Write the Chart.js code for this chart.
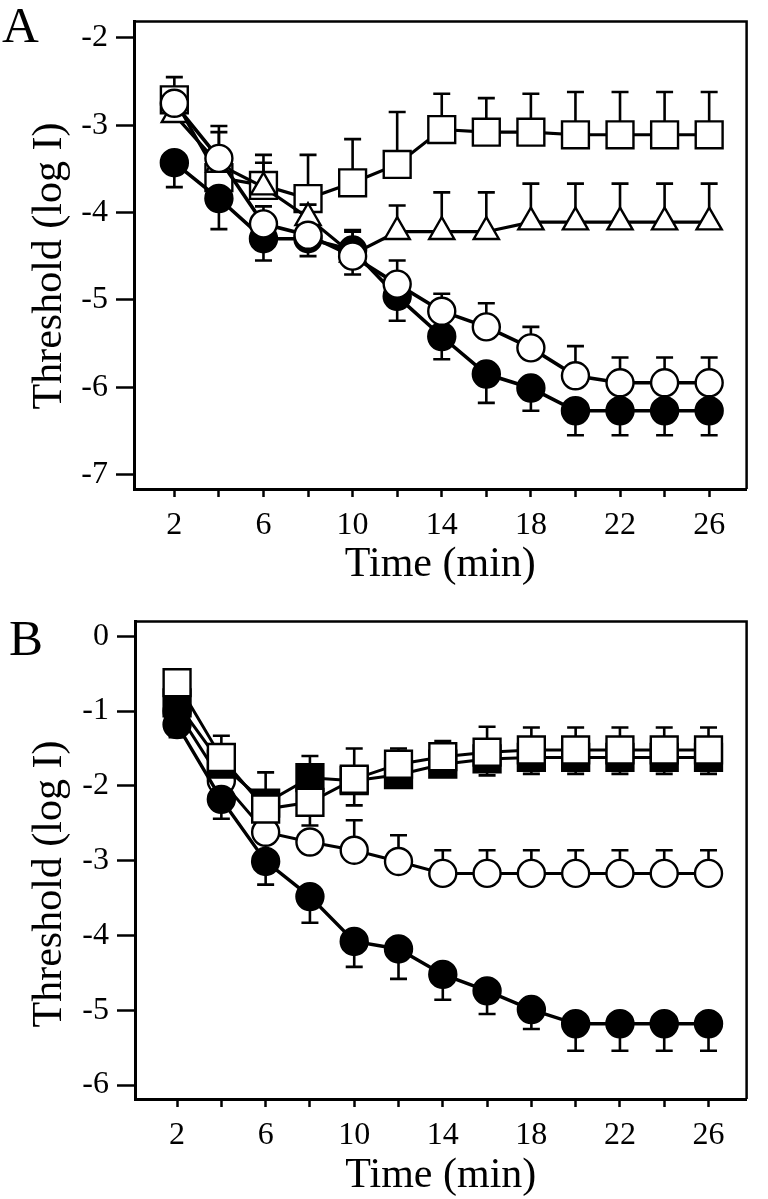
<!DOCTYPE html>
<html>
<head>
<meta charset="utf-8">
<title>Threshold vs time</title>
<script src="https://cdn.jsdelivr.net/npm/chart.js@4.4.1/dist/chart.umd.min.js"></script>
<style>
  html, body { margin: 0; padding: 0; background: #fff; }
  .panel { position: absolute; left: 0; width: 768px; }
  #panelA { top: 0; height: 600px; }
  #panelB { top: 600px; height: 599px; }
</style>
</head>
<body>
<div class="panel" id="panelA"><canvas id="chartA"></canvas></div>
<div class="panel" id="panelB"><canvas id="chartB"></canvas></div>
<script>
// Data (log I thresholds, minutes)
const timeMin = [2, 4, 6, 8, 10, 12, 14, 16, 18, 20, 22, 24, 26];
const xTickValues = [2, 4, 6, 8, 10, 12, 14, 16, 18, 20, 22, 24, 26];
const xLabelValues = [2, 6, 10, 14, 18, 22, 26];
const yTicksA = [-2, -3, -4, -5, -6, -7];
const yTicksB = [0, -1, -2, -3, -4, -5, -6];

// Panel A
const aSquareOpen   = [-2.71, -3.60, -3.69, -3.84, -3.66, -3.45, -3.05, -3.08, -3.08, -3.11, -3.11, -3.11, -3.11];
const aSquareOpenUp = [0.26, 0.59, 0.35, 0.50, 0.50, 0.60, 0.41, 0.39, 0.44, 0.49, 0.49, 0.49, 0.49];
const aTriangle     = [-2.88, -3.45, -3.71, -4.06, -4.48, -4.22, -4.22, -4.22, -4.11, -4.11, -4.11, -4.11, -4.11];
const aTriangleUp   = [null, 0.37, 0.28, 0.15, 0.26, 0.30, 0.45, 0.45, 0.44, 0.44, 0.44, 0.44, 0.44];
const aCircleOpen   = [-2.75, -3.38, -4.13, -4.26, -4.50, -4.82, -5.13, -5.31, -5.55, -5.87, -5.95, -5.95, -5.95];
const aCircleOpenUp = [null, null, 0.20, null, 0.30, 0.27, 0.20, 0.27, 0.24, 0.34, 0.29, 0.29, 0.29];
const aCircleFilled = [-3.43, -3.84, -4.30, -4.30, -4.43, -4.96, -5.42, -5.85, -6.01, -6.27, -6.27, -6.27, -6.27];
const aCircleFilledDown = [0.28, 0.35, 0.25, 0.20, 0.28, 0.28, 0.26, 0.33, 0.26, 0.28, 0.28, 0.28, 0.28];

// Panel B
const bSquareOpen     = [-0.62, -1.62, -2.31, -2.22, -1.91, -1.71, -1.61, -1.55, -1.52, -1.52, -1.52, -1.52, -1.52];
const bSquareOpenUp   = [null, 0.29, null, null, 0.41, 0.21, 0.21, 0.34, 0.30, 0.30, 0.30, 0.30, 0.30];
const bSquareOpenDown = [null, null, 0.17, 0.31, 0.35, null, null, null, null, null, null, null, null];
const bSquareFilled     = [-0.89, -1.71, -2.23, -1.89, -1.93, -1.85, -1.71, -1.64, -1.62, -1.62, -1.62, -1.62, -1.62];
const bSquareFilledUp   = [null, null, 0.41, 0.29, null, null, null, null, null, null, null, null, null];
const bSquareFilledDown = [null, null, null, null, null, null, null, 0.22, 0.22, 0.22, 0.22, 0.22, 0.22];
const bCircleOpen     = [-1.00, -1.93, -2.62, -2.75, -2.86, -3.01, -3.17, -3.17, -3.17, -3.17, -3.17, -3.17, -3.17];
const bCircleOpenUp   = [null, null, null, null, 0.40, 0.35, 0.31, 0.31, 0.31, 0.31, 0.31, 0.31, 0.31];
const bCircleFilled     = [-1.18, -2.18, -3.01, -3.48, -4.08, -4.18, -4.52, -4.74, -4.99, -5.18, -5.18, -5.18, -5.18];
const bCircleFilledDown = [0.17, 0.26, 0.31, 0.35, 0.34, 0.40, 0.34, 0.31, 0.26, 0.36, 0.36, 0.36, 0.36];

Chart.defaults.font.family = '"Liberation Serif", "Times New Roman", serif';
Chart.defaults.color = '#000';

// marker looks
const circleOpen = { shape: 'circle', r: 13.5, fill: '#fff' };
const circleFilled = { shape: 'circle', r: 13.5, fill: '#000' };
const squareOpen = { shape: 'rect', r: 19, fill: '#fff' };
const squareFilled = { shape: 'rect', r: 19, fill: '#000' };
const triangleOpen = { shape: 'triangle', r: 14.5, fill: '#fff' };

function series(vals, look, up, down, order, lineW) {
    return {
        data: timeMin.map((t, i) => ({ x: t, y: vals[i] })),
        borderColor: '#000',
        borderWidth: lineW,
        tension: 0,
        pointStyle: look.shape,
        pointRadius: look.r,
        pointBackgroundColor: look.fill,
        pointBorderColor: '#000',
        pointBorderWidth: 2.4,
        errUp: up,
        errDown: down,
        order: order
    };
}

// one-sided error bars, drawn just under their own markers
const errorBars = {
    id: 'errorBars',
    beforeDatasetDraw(chart, args) {
        const ds = chart.data.datasets[args.index];
        const yScale = chart.scales.y;
        const ctx = chart.ctx;
        ctx.save();
        ctx.strokeStyle = '#000';
        ctx.lineWidth = 2.6;
        args.meta.data.forEach((pt, i) => {
            const v = ds.data[i].y;
            [[ds.errUp, 1], [ds.errDown, -1]].forEach(([arr, sign]) => {
                if (!arr || arr[i] == null) return;
                const yEnd = yScale.getPixelForValue(v + sign * arr[i]);
                ctx.beginPath();
                ctx.moveTo(pt.x, pt.y);
                ctx.lineTo(pt.x, yEnd);
                ctx.moveTo(pt.x - 8.5, yEnd);
                ctx.lineTo(pt.x + 8.5, yEnd);
                ctx.stroke();
            });
        });
        ctx.restore();
    }
};

// box top/right edges, panel letter, y title
const frame = {
    id: 'frame',
    afterDraw(chart, args, opts) {
        const ctx = chart.ctx;
        const a = chart.chartArea;
        ctx.save();
        ctx.strokeStyle = '#000';
        ctx.lineWidth = 2.5;
        ctx.beginPath();
        ctx.moveTo(a.left, a.top);
        ctx.lineTo(a.right, a.top);
        ctx.lineTo(a.right, a.bottom);
        ctx.stroke();

        ctx.fillStyle = '#000';
        ctx.font = '51px "Liberation Serif"';
        ctx.textBaseline = 'alphabetic';
        ctx.textAlign = 'left';
        ctx.fillText(opts.letter, opts.letterX, opts.letterY);

        ctx.translate(opts.titleX, opts.titleY);
        ctx.rotate(-Math.PI / 2);
        ctx.font = '42px "Liberation Serif"';
        ctx.textAlign = 'center';
        ctx.textBaseline = 'middle';
        ctx.fillText('Threshold (log I)', 0, 0);
        ctx.restore();
    }
};

function makeOptions(cfg) {
    return {
        responsive: true,
        maintainAspectRatio: false,
        animation: false,
        layout: { padding: cfg.pad },
        plugins: {
            legend: { display: false },
            tooltip: { enabled: false },
            frame: cfg.frame
        },
        scales: {
            x: {
                type: 'linear',
                min: cfg.xMin,
                max: cfg.xMax,
                afterBuildTicks: s => { s.ticks = xTickValues.map(v => ({ value: v })); },
                afterFit: s => { s.height = cfg.xHeight; s.paddingLeft = 0; s.paddingRight = 0; },
                ticks: {
                    autoSkip: false,
                    maxRotation: 0,
                    padding: 9,
                    font: { size: 32 },
                    color: '#000',
                    callback: v => xLabelValues.includes(v) ? String(v) : ''
                },
                grid: { drawOnChartArea: false, drawTicks: true, tickLength: 8, tickWidth: 2.5, tickColor: '#000' },
                border: { display: true, color: '#000', width: 3 },
                title: {
                    display: true,
                    text: 'Time (min)',
                    color: '#000',
                    font: { size: 42, lineHeight: 1 },
                    padding: { top: 0, bottom: cfg.xTitlePad }
                }
            },
            y: {
                type: 'linear',
                min: cfg.yMin,
                max: cfg.yMax,
                afterBuildTicks: s => { s.ticks = cfg.yTicks.map(v => ({ value: v })); },
                afterFit: s => { s.width = cfg.yWidth; s.paddingTop = 0; s.paddingBottom = 0; },
                ticks: {
                    padding: 8,
                    font: { size: 32 },
                    color: '#000',
                    callback: v => String(v)
                },
                grid: { drawOnChartArea: false, drawTicks: true, tickLength: 18, tickWidth: 2.5, tickColor: '#000' },
                border: { display: true, color: '#000', width: 3 }
            }
        }
    };
}

new Chart(document.getElementById('chartA'), {
    type: 'line',
    data: {
        datasets: [
            series(aCircleOpen, circleOpen, aCircleOpenUp, null, 1, 3.6),
            series(aCircleFilled, circleFilled, null, aCircleFilledDown, 2, 3.6),
            series(aTriangle, triangleOpen, aTriangleUp, null, 3, 3.2),
            series(aSquareOpen, squareOpen, aSquareOpenUp, null, 4, 3.2)
        ]
    },
    options: makeOptions({
        pad: { left: 0, top: 5, right: 12, bottom: 0 },
        xMin: 0.19, xMax: 27.68,
        yMin: -7.166, yMax: -1.812,
        yTicks: yTicksA,
        xHeight: 111,
        yWidth: 134,
        xTitlePad: 14,
        frame: { letter: 'A', letterX: 2, letterY: 42, titleX: 50, titleY: 266 }
    }),
    plugins: [errorBars, frame]
});

new Chart(document.getElementById('chartB'), {
    type: 'line',
    data: {
        datasets: [
            series(bSquareOpen, squareOpen, bSquareOpenUp, bSquareOpenDown, 1, 3),
            series(bSquareFilled, squareFilled, bSquareFilledUp, bSquareFilledDown, 2, 3),
            series(bCircleFilled, circleFilled, null, bCircleFilledDown, 3, 3.4),
            series(bCircleOpen, circleOpen, bCircleOpenUp, null, 4, 3)
        ]
    },
    options: makeOptions({
        pad: { left: 0, top: 18, right: 7, bottom: 0 },
        xMin: 0.10, xMax: 27.72,
        yMin: -6.186, yMax: 0.199,
        yTicks: yTicksB,
        xHeight: 100,
        yWidth: 135,
        xTitlePad: 2,
        frame: { letter: 'B', letterX: 9, letterY: 55, titleX: 50, titleY: 284 }
    }),
    plugins: [errorBars, frame]
});
</script>
</body>
</html>
